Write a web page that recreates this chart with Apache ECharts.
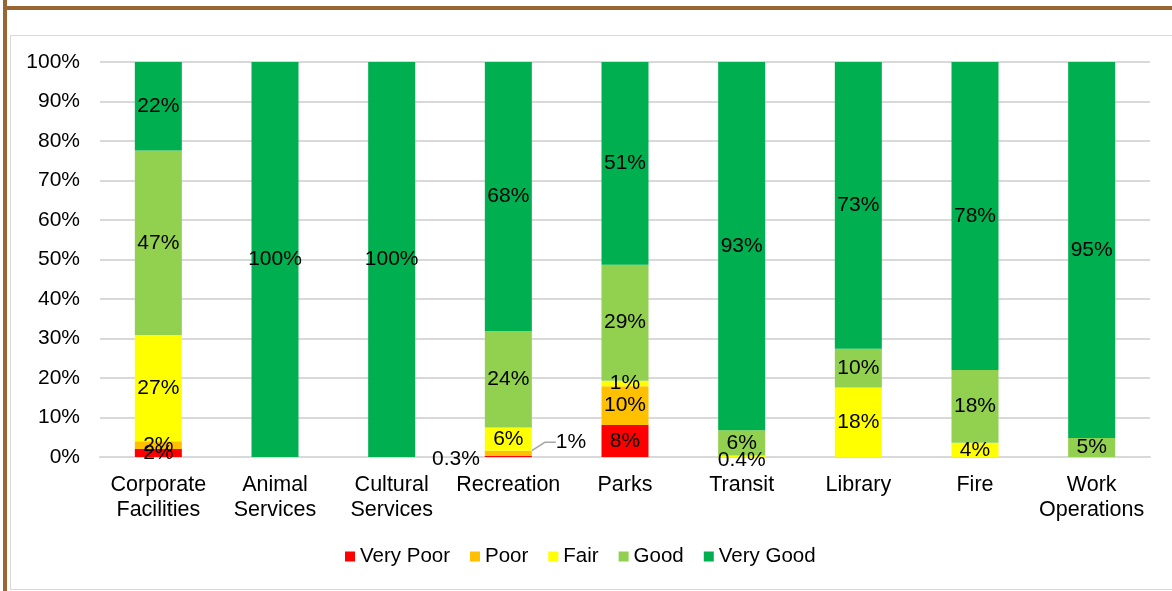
<!DOCTYPE html>
<html>
<head>
<meta charset="utf-8">
<script src="https://cdn.jsdelivr.net/npm/echarts@6/dist/echarts.min.js"></script>
<style>
  html, body { margin: 0; padding: 0; background: #fff; width: 1172px; height: 591px; overflow: hidden; }
  #frameTop { position: absolute; left: 3px; top: 6px; width: 1200px; height: 4px; background: #996633; }
  #frameLeft { position: absolute; left: 3px; top: 0; width: 4px; height: 600px; background: #996633; }
  #chartBox { position: absolute; left: 10px; top: 35px; width: 1200px; height: 553px; border: 1.5px solid #d9d9d9; }
  #chart { position: absolute; left: 0; top: 0; width: 1172px; height: 591px; }
</style>
</head>
<body>
<div id="frameTop"></div>
<div id="frameLeft"></div>
<div id="chartBox"></div>
<div id="chart"></div>
<script>
const categories = ['Corporate\nFacilities', 'Animal\nServices', 'Cultural\nServices', 'Recreation', 'Parks', 'Transit', 'Library', 'Fire', 'Work\nOperations'];
const seriesNames = ['Very Poor', 'Poor', 'Fair', 'Good', 'Very Good'];
const colors = ['#FF0000', '#FFC000', '#FFFF00', '#92D050', '#00B050'];
const veryPoor = [2.0, null, null, 0.3, 8.1, null, null, null, null];
const poor     = [2.0, null, null, 1.3, 9.8, null, null, null, null];
const fair     = [26.9, null, null, 5.9, 1.4, 0.4, 17.6, 3.6, null];
const good     = [46.7, null, null, 24.4, 29.4, 6.4, 9.8, 18.4, 4.8];
const veryGood = [22.4, 100, 100, 68.1, 51.3, 93.2, 72.6, 78.0, 95.2];
const yTicks = { min: 0, max: 100, interval: 10 };

const fmt = p => {
  const v = p.value;
  if (v == null) return '';
  return (v < 1 ? v.toFixed(1) : Math.round(v)) + '%';
};

const allData = [veryPoor, poor, fair, good, veryGood];
const series = allData.map((arr, si) => ({
  name: seriesNames[si],
  type: 'bar',
  stack: 'total',
  barWidth: 47,
  itemStyle: { color: colors[si] },
  label: {
    show: true,
    position: 'inside',
    formatter: fmt,
    color: '#000',
    fontFamily: 'Liberation Sans, Arial, sans-serif',
    fontSize: 21
  },
  labelLine: { show: false },
  emphasis: { disabled: true },
  data: arr.map((v, i) => {
    if (si === 0 && i === 3) {
      return { value: v, label: { position: 'left', distance: 5, offset: [0, 3] } };
    }
    if (si === 1 && i === 3) {
      return { value: v, label: { position: 'right', distance: 5 }, labelLine: { show: true, length2: 11, lineStyle: { color: '#a6a6a6', width: 1.5 } } };
    }
    if (si === 2 && i === 5) {
      return { value: v, label: { offset: [0, 4] } };
    }
    return v;
  }),
  labelLayout: si === 1 ? function (params) {
    if (params.dataIndex === 3) return { dx: 19, dy: -11 };
    return {};
  } : undefined
}));

const chart = echarts.init(document.getElementById('chart'), null, { renderer: 'canvas' });
chart.setOption({
  animation: false,
  backgroundColor: 'transparent',
  textStyle: { fontFamily: 'Liberation Sans, Arial, sans-serif' },
  grid: { left: 100, right: 22, top: 62, bottom: 134, containLabel: false },
  legend: {
    data: seriesNames,
    left: 340,
    top: 541,
    itemWidth: 10,
    itemHeight: 10,
    itemGap: 20,
    icon: 'rect',
    textStyle: { fontSize: 20.5, color: '#000' },
    selectedMode: false
  },
  xAxis: {
    type: 'category',
    data: categories,
    axisLine: { lineStyle: { color: '#d9d9d9', width: 2 } },
    axisTick: { show: false },
    axisLabel: { color: '#000', fontSize: 21.5, lineHeight: 25, margin: 16, interval: 0 }
  },
  yAxis: {
    type: 'value',
    min: yTicks.min,
    max: yTicks.max,
    interval: yTicks.interval,
    axisLine: { show: false },
    axisTick: { show: false },
    splitLine: { lineStyle: { color: '#d9d9d9', width: 2 } },
    axisLabel: { formatter: '{value}%', color: '#000', fontSize: 21, margin: 20 }
  },
  series: series
});
</script>
</body>
</html>
